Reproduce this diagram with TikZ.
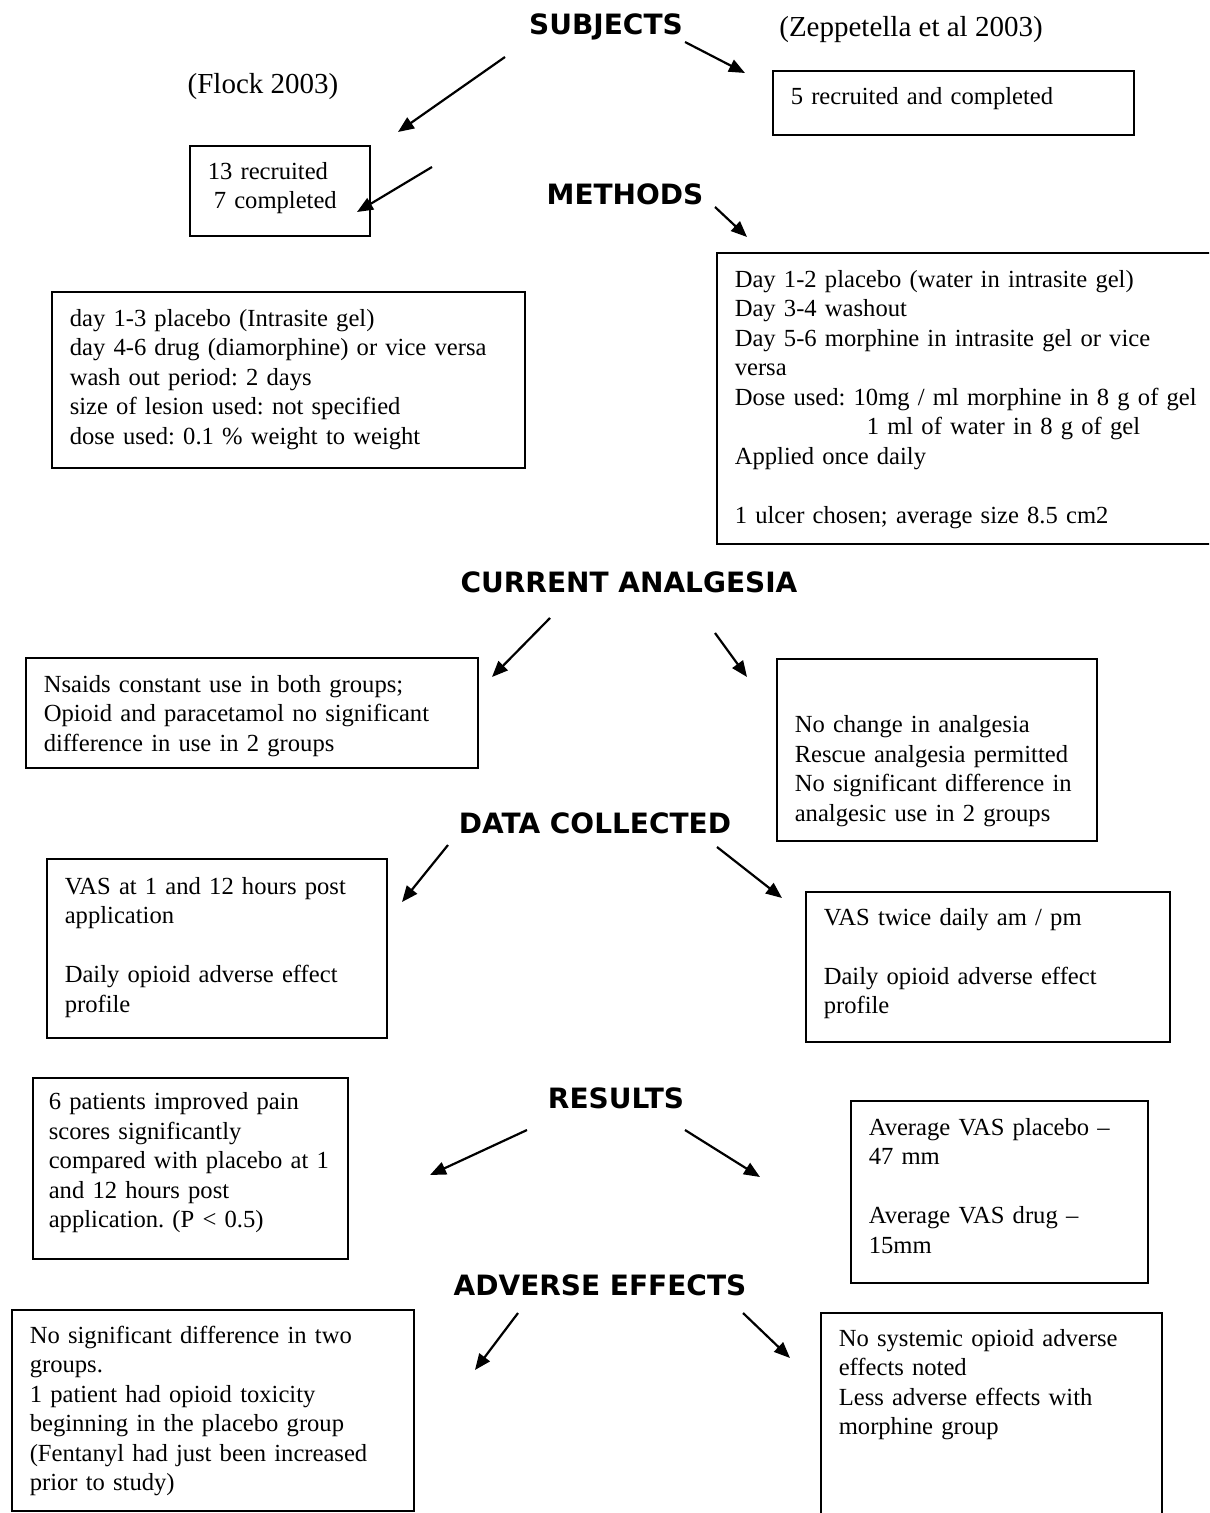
\documentclass[tikz,border=0pt]{standalone}
\usepackage{fontspec}
\setmainfont{Liberation Serif}
\newfontfamily\headfont{DejaVu Sans}
\usetikzlibrary{arrows.meta}
\frenchspacing

\begin{document}
\begin{tikzpicture}[x=0.5pt,y=-0.5pt]
\tikzstyle{head}=[font=\headfont\bfseries\fontsize{14}{16}\selectfont,anchor=base,inner sep=0pt]
\tikzstyle{study}=[font=\fontsize{14.5}{17}\selectfont,anchor=base,inner sep=0pt]
\tikzstyle{box}=[draw,line width=0.8pt,anchor=north west,align=left,inner xsep=9pt,inner ysep=0pt,font=\fontsize{12.3}{14.75}\selectfont]
\tikzstyle{arr}=[line width=1.1pt,-{Triangle[length=8pt,width=6.5pt]}]
\useasboundingbox (0,0) rectangle (1209,1513);
\clip (0,0) rectangle (1209,1513);

% headings
\node[head] (subj) at (606,35) {SUBJECTS};
\node[head] (meth) at (625,205) {METHODS};
\node[head] (analg) at (629,592) {CURRENT ANALGESIA};
\node[head] (data) at (595,833) {DATA COLLECTED};
\node[head] (res) at (616,1108) {RESULTS};
\node[head] (ae) at (600,1295) {ADVERSE EFFECTS};
\node[study] (flock) at (263,94) {(Flock 2003)};
\node[study] (zepp) at (911,37) {(Zeppetella et al 2003)};

% left column (Flock)
\node[box,text width=72pt,text height=16.75pt,text depth=28.25pt] (fsubj) at (189,145)
  {13 recruited\\\hspace*{3pt}7 completed};
\node[box,text width=218.5pt,text height=17.25pt,text depth=70.75pt] (fmeth) at (51,291)
  {day 1-3 placebo (Intrasite gel)\\
   day 4-6 drug (diamorphine) or vice versa\\
   wash out period: 2 days\\
   size of lesion used: not specified\\
   dose used: 0.1 \% weight to weight};
\node[box,text width=208pt,text height=17.25pt,text depth=37.75pt] (fanalg) at (25,657)
  {Nsaids constant use in both groups;\\
   Opioid and paracetamol no significant\\
   difference in use in 2 groups};
\node[box,text width=152pt,text height=17.75pt,text depth=71.75pt] (fdata) at (46,858)
  {VAS at 1 and 12 hours post\\
   application\\
   \mbox{}\\
   Daily opioid adverse effect\\
   profile};
\node[box,inner xsep=8pt,text width=141.5pt,text height=16pt,text depth=74.5pt] (fres) at (32,1077)
  {6 patients improved pain\\
   scores significantly\\
   compared with placebo at 1\\
   and 12 hours post\\
   application. (P < 0.5)};
\node[box,text width=183pt,text height=16.75pt,text depth=83.75pt] (fae) at (11,1309)
  {No significant difference in two\\
   groups.\\
   1 patient had opioid toxicity\\
   beginning in the placebo group\\
   (Fentanyl had just been increased\\
   prior to study)};

% right column (Zeppetella)
\node[box,text width=162.5pt,text height=16.75pt,text depth=15.25pt] (zsubj) at (772,70)
  {5 recruited and completed};
\node[box,text width=239pt,text height=17.25pt,text depth=128.25pt] (zmeth) at (716,252)
  {Day 1-2 placebo (water in intrasite gel)\\
   Day 3-4 washout\\
   Day 5-6 morphine in intrasite gel or vice\\
   versa\\
   Dose used: 10mg / ml morphine in 8 g of gel\\
   \hspace*{66pt}1 ml of water in 8 g of gel\\
   Applied once daily\\
   \mbox{}\\
   1 ulcer chosen; average size 8.5 cm2};
\node[box,text width=142pt,text height=37pt,text depth=54pt] (zanalg) at (776,658)
  {No change in analgesia\\
   Rescue analgesia permitted\\
   No significant difference in\\
   analgesic use in 2 groups};
\node[box,text width=164pt,text height=16.75pt,text depth=58.25pt] (zdata) at (805,891)
  {VAS twice daily am / pm\\
   \mbox{}\\
   Daily opioid adverse effect\\
   profile};
\node[box,text width=130.5pt,text height=17.25pt,text depth=73.75pt] (zres) at (850,1100)
  {Average VAS placebo --\\
   47 mm\\
   \mbox{}\\
   Average VAS drug --\\
   15mm};
\node[box,text width=152.5pt,text height=16.75pt,text depth=92.25pt] (zae) at (820,1312)
  {No systemic opioid adverse\\
   effects noted\\
   Less adverse effects with\\
   morphine group};

% arrows
\coordinate (subjL) at (505,57);   \coordinate (subjLtip) at (398,132);
\coordinate (subjR) at (685,42);   \coordinate (subjRtip) at (745,73);
\coordinate (methL) at (432,167);  \coordinate (methLtip) at (357,212);
\coordinate (methR) at (715,207);  \coordinate (methRtip) at (747,237);
\coordinate (analgL) at (550,618); \coordinate (analgLtip) at (492,677);
\coordinate (analgR) at (715,633); \coordinate (analgRtip) at (747,677);
\coordinate (dataL) at (448,845);  \coordinate (dataLtip) at (402,902);
\coordinate (dataR) at (717,847);  \coordinate (dataRtip) at (782,898);
\coordinate (resL) at (527,1130);  \coordinate (resLtip) at (430,1175);
\coordinate (resR) at (685,1130);  \coordinate (resRtip) at (760,1177);
\coordinate (aeL) at (518,1313);   \coordinate (aeLtip) at (475,1370);
\coordinate (aeR) at (743,1313);   \coordinate (aeRtip) at (790,1358);
\draw[arr] (subjL) -- (subjLtip);
\draw[arr] (subjR) -- (subjRtip);
\draw[arr] (methL) -- (methLtip);
\draw[arr] (methR) -- (methRtip);
\draw[arr] (analgL) -- (analgLtip);
\draw[arr] (analgR) -- (analgRtip);
\draw[arr] (dataL) -- (dataLtip);
\draw[arr] (dataR) -- (dataRtip);
\draw[arr] (resL) -- (resLtip);
\draw[arr] (resR) -- (resRtip);
\draw[arr] (aeL) -- (aeLtip);
\draw[arr] (aeR) -- (aeRtip);
\end{tikzpicture}
\end{document}
